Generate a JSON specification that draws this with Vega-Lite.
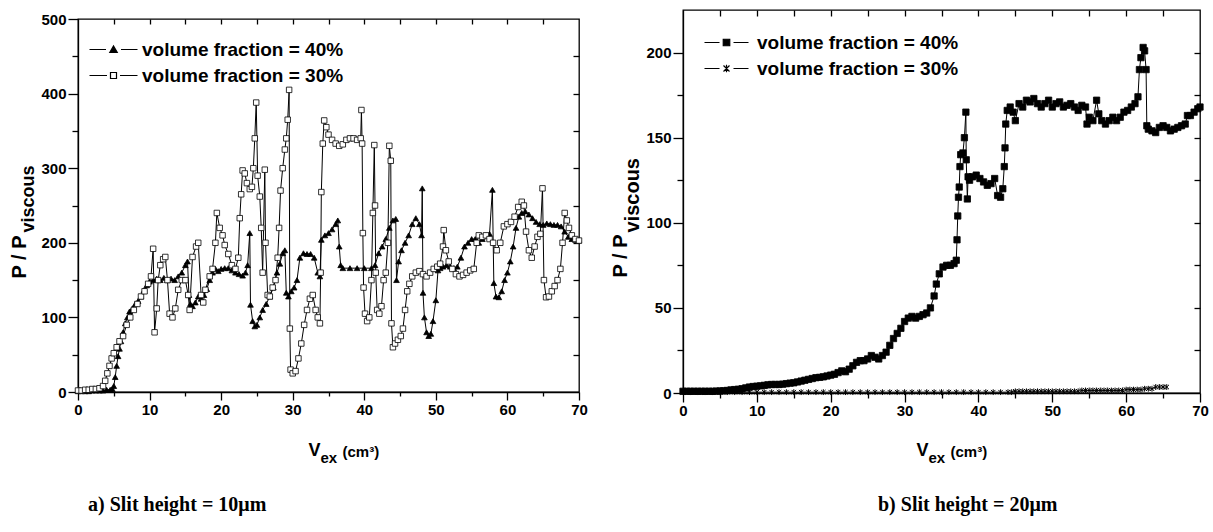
{
"$schema": "https://vega.github.io/schema/vega-lite/v6.json",
"background": "white",
"padding": {"left": 8, "top": 8, "right": 0, "bottom": 0},
"config": {
  "view": {"stroke": "black", "strokeWidth": 1.3},
  "axis": {"grid": false, "labelFont": "Liberation Sans", "labelFontWeight": "bold", "labelFontSize": 15, "labelColor": "black", "labelFlush": false, "tickColor": "black", "tickWidth": 1.3, "domainColor": "black", "domainWidth": 1.3, "titleFont": "Liberation Sans", "titleFontWeight": "bold", "titleColor": "black", "titleAlign": "left", "titleBaseline": "alphabetic"}
},
"datasets": {
"L": [
{"s":"40%","v":0,"p":1},{"s":"40%","v":0.5,"p":1},{"s":"40%","v":1,"p":1},{"s":"40%","v":1.5,"p":1},{"s":"40%","v":2,"p":2},{"s":"40%","v":2.5,"p":2},{"s":"40%","v":3,"p":2},{"s":"40%","v":3.5,"p":2},{"s":"40%","v":4,"p":3},{"s":"40%","v":4.5,"p":3},{"s":"40%","v":4.8,"p":4},{"s":"40%","v":5,"p":8},{"s":"40%","v":5.2,"p":20},{"s":"40%","v":5.4,"p":35},{"s":"40%","v":5.6,"p":48},{"s":"40%","v":5.8,"p":58},{"s":"40%","v":6,"p":68},{"s":"40%","v":6.3,"p":80},{"s":"40%","v":6.6,"p":92},{"s":"40%","v":6.9,"p":100},{"s":"40%","v":7.2,"p":108},{"s":"40%","v":7.6,"p":112},{"s":"40%","v":8,"p":118},{"s":"40%","v":8.4,"p":122},{"s":"40%","v":8.8,"p":128},{"s":"40%","v":9.2,"p":136},{"s":"40%","v":9.6,"p":143},{"s":"40%","v":10,"p":148},{"s":"40%","v":10.5,"p":150},{"s":"40%","v":11,"p":152},{"s":"40%","v":11.5,"p":150},{"s":"40%","v":12,"p":153},{"s":"40%","v":12.5,"p":150},{"s":"40%","v":13,"p":152},{"s":"40%","v":13.5,"p":150},{"s":"40%","v":14,"p":155},{"s":"40%","v":14.5,"p":160},{"s":"40%","v":15,"p":170},{"s":"40%","v":15.3,"p":175},{"s":"40%","v":15.5,"p":130},{"s":"40%","v":15.7,"p":118},{"s":"40%","v":16,"p":115},{"s":"40%","v":16.4,"p":120},{"s":"40%","v":16.8,"p":128},{"s":"40%","v":17.2,"p":125},{"s":"40%","v":17.6,"p":130},{"s":"40%","v":18,"p":138},{"s":"40%","v":18.4,"p":150},{"s":"40%","v":18.8,"p":160},{"s":"40%","v":19.2,"p":165},{"s":"40%","v":19.6,"p":162},{"s":"40%","v":20,"p":165},{"s":"40%","v":20.5,"p":166},{"s":"40%","v":21,"p":166},{"s":"40%","v":21.5,"p":163},{"s":"40%","v":22,"p":160},{"s":"40%","v":22.5,"p":158},{"s":"40%","v":23,"p":156},{"s":"40%","v":23.4,"p":160},{"s":"40%","v":23.7,"p":170},{"s":"40%","v":24,"p":213},{"s":"40%","v":24.1,"p":117},{"s":"40%","v":24.4,"p":95},{"s":"40%","v":24.7,"p":88},{"s":"40%","v":25,"p":90},{"s":"40%","v":25.4,"p":100},{"s":"40%","v":25.8,"p":110},{"s":"40%","v":26.3,"p":118},{"s":"40%","v":26.8,"p":128},{"s":"40%","v":27.3,"p":140},{"s":"40%","v":27.8,"p":160},{"s":"40%","v":28.2,"p":172},{"s":"40%","v":28.6,"p":186},{"s":"40%","v":28.9,"p":190},{"s":"40%","v":29.1,"p":133},{"s":"40%","v":29.4,"p":128},{"s":"40%","v":29.8,"p":135},{"s":"40%","v":30.2,"p":140},{"s":"40%","v":30.6,"p":150},{"s":"40%","v":31,"p":180},{"s":"40%","v":31.5,"p":186},{"s":"40%","v":32,"p":185},{"s":"40%","v":32.5,"p":185},{"s":"40%","v":33,"p":180},{"s":"40%","v":33.5,"p":160},{"s":"40%","v":33.8,"p":155},{"s":"40%","v":34,"p":204},{"s":"40%","v":34.5,"p":210},{"s":"40%","v":35,"p":213},{"s":"40%","v":35.5,"p":218},{"s":"40%","v":36,"p":225},{"s":"40%","v":36.3,"p":230},{"s":"40%","v":36.5,"p":195},{"s":"40%","v":36.7,"p":170},{"s":"40%","v":37,"p":166},{"s":"40%","v":38,"p":166},{"s":"40%","v":39,"p":166},{"s":"40%","v":40,"p":166},{"s":"40%","v":41,"p":166},{"s":"40%","v":41.5,"p":170},{"s":"40%","v":42,"p":186},{"s":"40%","v":42.5,"p":195},{"s":"40%","v":43,"p":205},{"s":"40%","v":43.5,"p":220},{"s":"40%","v":44,"p":230},{"s":"40%","v":44.4,"p":232},{"s":"40%","v":44.5,"p":150},{"s":"40%","v":44.8,"p":175},{"s":"40%","v":45.2,"p":190},{"s":"40%","v":45.7,"p":200},{"s":"40%","v":46.2,"p":210},{"s":"40%","v":46.7,"p":225},{"s":"40%","v":47.2,"p":233},{"s":"40%","v":47.7,"p":225},{"s":"40%","v":48,"p":210},{"s":"40%","v":48.1,"p":273},{"s":"40%","v":48.2,"p":133},{"s":"40%","v":48.4,"p":100},{"s":"40%","v":48.7,"p":80},{"s":"40%","v":49,"p":75},{"s":"40%","v":49.3,"p":78},{"s":"40%","v":49.6,"p":95},{"s":"40%","v":50,"p":123},{"s":"40%","v":50.3,"p":163},{"s":"40%","v":50.6,"p":166},{"s":"40%","v":51,"p":168},{"s":"40%","v":51.5,"p":170},{"s":"40%","v":52,"p":168},{"s":"40%","v":52.5,"p":166},{"s":"40%","v":53,"p":168},{"s":"40%","v":53.5,"p":180},{"s":"40%","v":54,"p":195},{"s":"40%","v":54.5,"p":200},{"s":"40%","v":55,"p":205},{"s":"40%","v":55.5,"p":205},{"s":"40%","v":56,"p":200},{"s":"40%","v":56.5,"p":205},{"s":"40%","v":57,"p":210},{"s":"40%","v":57.5,"p":212},{"s":"40%","v":57.9,"p":271},{"s":"40%","v":58.1,"p":146},{"s":"40%","v":58.4,"p":128},{"s":"40%","v":58.8,"p":127},{"s":"40%","v":59.2,"p":135},{"s":"40%","v":59.6,"p":150},{"s":"40%","v":60,"p":160},{"s":"40%","v":60.4,"p":175},{"s":"40%","v":60.8,"p":195},{"s":"40%","v":61.2,"p":220},{"s":"40%","v":61.6,"p":235},{"s":"40%","v":62,"p":240},{"s":"40%","v":62.5,"p":242},{"s":"40%","v":63,"p":238},{"s":"40%","v":63.5,"p":233},{"s":"40%","v":64,"p":228},{"s":"40%","v":64.5,"p":225},{"s":"40%","v":65,"p":224},{"s":"40%","v":65.5,"p":226},{"s":"40%","v":66,"p":225},{"s":"40%","v":66.5,"p":224},{"s":"40%","v":67,"p":224},{"s":"40%","v":67.5,"p":222},{"s":"40%","v":68,"p":215},{"s":"40%","v":68.5,"p":208},{"s":"40%","v":69,"p":205},{"s":"40%","v":69.5,"p":204},{"s":"40%","v":70,"p":203},
{"s":"30%","v":0,"p":2},{"s":"30%","v":0.5,"p":2},{"s":"30%","v":1,"p":3},{"s":"30%","v":1.5,"p":3},{"s":"30%","v":2,"p":4},{"s":"30%","v":2.5,"p":4},{"s":"30%","v":3,"p":5},{"s":"30%","v":3.5,"p":8},{"s":"30%","v":3.8,"p":15},{"s":"30%","v":4.1,"p":25},{"s":"30%","v":4.4,"p":35},{"s":"30%","v":4.7,"p":45},{"s":"30%","v":5,"p":52},{"s":"30%","v":5.4,"p":60},{"s":"30%","v":5.8,"p":68},{"s":"30%","v":6.3,"p":75},{"s":"30%","v":6.8,"p":90},{"s":"30%","v":7.3,"p":100},{"s":"30%","v":7.8,"p":110},{"s":"30%","v":8.3,"p":118},{"s":"30%","v":8.8,"p":128},{"s":"30%","v":9.3,"p":135},{"s":"30%","v":9.8,"p":145},{"s":"30%","v":10.2,"p":155},{"s":"30%","v":10.5,"p":192},{"s":"30%","v":10.7,"p":80},{"s":"30%","v":11,"p":112},{"s":"30%","v":11.2,"p":150},{"s":"30%","v":11.5,"p":170},{"s":"30%","v":11.9,"p":178},{"s":"30%","v":12.2,"p":181},{"s":"30%","v":12.5,"p":150},{"s":"30%","v":12.8,"p":105},{"s":"30%","v":13.2,"p":100},{"s":"30%","v":13.6,"p":112},{"s":"30%","v":14,"p":137},{"s":"30%","v":14.5,"p":150},{"s":"30%","v":15,"p":150},{"s":"30%","v":15.4,"p":130},{"s":"30%","v":15.6,"p":110},{"s":"30%","v":16,"p":181},{"s":"30%","v":16.5,"p":195},{"s":"30%","v":16.8,"p":200},{"s":"30%","v":17.2,"p":130},{"s":"30%","v":17.5,"p":120},{"s":"30%","v":17.8,"p":137},{"s":"30%","v":18.4,"p":155},{"s":"30%","v":18.8,"p":165},{"s":"30%","v":19.2,"p":200},{"s":"30%","v":19.4,"p":240},{"s":"30%","v":19.8,"p":220},{"s":"30%","v":20.2,"p":210},{"s":"30%","v":20.5,"p":197},{"s":"30%","v":21,"p":185},{"s":"30%","v":21.5,"p":170},{"s":"30%","v":22,"p":165},{"s":"30%","v":22.4,"p":180},{"s":"30%","v":22.6,"p":233},{"s":"30%","v":22.8,"p":265},{"s":"30%","v":23,"p":297},{"s":"30%","v":23.3,"p":293},{"s":"30%","v":23.6,"p":280},{"s":"30%","v":24,"p":272},{"s":"30%","v":24.3,"p":275},{"s":"30%","v":24.5,"p":300},{"s":"30%","v":24.7,"p":340},{"s":"30%","v":24.9,"p":388},{"s":"30%","v":25.1,"p":290},{"s":"30%","v":25.4,"p":262},{"s":"30%","v":25.6,"p":220},{"s":"30%","v":25.8,"p":160},{"s":"30%","v":26.1,"p":298},{"s":"30%","v":26.2,"p":200},{"s":"30%","v":26.5,"p":130},{"s":"30%","v":26.8,"p":128},{"s":"30%","v":27.2,"p":140},{"s":"30%","v":27.6,"p":150},{"s":"30%","v":27.9,"p":180},{"s":"30%","v":28.1,"p":220},{"s":"30%","v":28.3,"p":270},{"s":"30%","v":28.6,"p":300},{"s":"30%","v":28.9,"p":325},{"s":"30%","v":29.1,"p":340},{"s":"30%","v":29.3,"p":365},{"s":"30%","v":29.5,"p":405},{"s":"30%","v":29.6,"p":85},{"s":"30%","v":29.7,"p":30},{"s":"30%","v":30,"p":25},{"s":"30%","v":30.4,"p":28},{"s":"30%","v":30.8,"p":45},{"s":"30%","v":31.2,"p":65},{"s":"30%","v":31.6,"p":90},{"s":"30%","v":32,"p":110},{"s":"30%","v":32.4,"p":125},{"s":"30%","v":32.8,"p":130},{"s":"30%","v":33.2,"p":110},{"s":"30%","v":33.5,"p":100},{"s":"30%","v":33.8,"p":92},{"s":"30%","v":33.9,"p":160},{"s":"30%","v":34,"p":268},{"s":"30%","v":34.2,"p":333},{"s":"30%","v":34.4,"p":364},{"s":"30%","v":34.7,"p":355},{"s":"30%","v":35,"p":345},{"s":"30%","v":35.5,"p":338},{"s":"30%","v":36,"p":333},{"s":"30%","v":36.5,"p":330},{"s":"30%","v":37,"p":332},{"s":"30%","v":37.5,"p":338},{"s":"30%","v":38,"p":340},{"s":"30%","v":38.5,"p":340},{"s":"30%","v":39,"p":338},{"s":"30%","v":39.5,"p":340},{"s":"30%","v":39.6,"p":378},{"s":"30%","v":39.7,"p":333},{"s":"30%","v":39.8,"p":213},{"s":"30%","v":39.9,"p":140},{"s":"30%","v":40.1,"p":105},{"s":"30%","v":40.4,"p":95},{"s":"30%","v":40.7,"p":100},{"s":"30%","v":41,"p":150},{"s":"30%","v":41.2,"p":240},{"s":"30%","v":41.4,"p":331},{"s":"30%","v":41.5,"p":250},{"s":"30%","v":41.6,"p":160},{"s":"30%","v":41.8,"p":110},{"s":"30%","v":42.1,"p":105},{"s":"30%","v":42.4,"p":115},{"s":"30%","v":42.7,"p":150},{"s":"30%","v":43,"p":160},{"s":"30%","v":43.3,"p":200},{"s":"30%","v":43.5,"p":330},{"s":"30%","v":43.7,"p":310},{"s":"30%","v":43.8,"p":92},{"s":"30%","v":44,"p":60},{"s":"30%","v":44.3,"p":65},{"s":"30%","v":44.7,"p":70},{"s":"30%","v":45.1,"p":75},{"s":"30%","v":45.4,"p":85},{"s":"30%","v":45.7,"p":110},{"s":"30%","v":46,"p":135},{"s":"30%","v":46.3,"p":145},{"s":"30%","v":46.7,"p":155},{"s":"30%","v":47.2,"p":160},{"s":"30%","v":47.7,"p":162},{"s":"30%","v":48.2,"p":158},{"s":"30%","v":48.7,"p":155},{"s":"30%","v":49.2,"p":160},{"s":"30%","v":49.7,"p":165},{"s":"30%","v":50.2,"p":168},{"s":"30%","v":50.6,"p":172},{"s":"30%","v":51,"p":195},{"s":"30%","v":51.1,"p":217},{"s":"30%","v":51.4,"p":190},{"s":"30%","v":51.8,"p":175},{"s":"30%","v":52.3,"p":165},{"s":"30%","v":52.8,"p":158},{"s":"30%","v":53.3,"p":155},{"s":"30%","v":53.8,"p":157},{"s":"30%","v":54.3,"p":160},{"s":"30%","v":54.8,"p":163},{"s":"30%","v":55.3,"p":165},{"s":"30%","v":55.7,"p":200},{"s":"30%","v":56,"p":210},{"s":"30%","v":56.5,"p":208},{"s":"30%","v":57,"p":210},{"s":"30%","v":57.5,"p":205},{"s":"30%","v":58,"p":200},{"s":"30%","v":58.5,"p":190},{"s":"30%","v":59,"p":200},{"s":"30%","v":59.5,"p":222},{"s":"30%","v":60,"p":225},{"s":"30%","v":60.5,"p":228},{"s":"30%","v":61,"p":235},{"s":"30%","v":61.5,"p":248},{"s":"30%","v":62,"p":255},{"s":"30%","v":62.3,"p":250},{"s":"30%","v":62.6,"p":215},{"s":"30%","v":63,"p":190},{"s":"30%","v":63.4,"p":180},{"s":"30%","v":63.8,"p":195},{"s":"30%","v":64.2,"p":208},{"s":"30%","v":64.6,"p":212},{"s":"30%","v":64.9,"p":273},{"s":"30%","v":65.1,"p":150},{"s":"30%","v":65.4,"p":127},{"s":"30%","v":65.8,"p":128},{"s":"30%","v":66.2,"p":135},{"s":"30%","v":66.6,"p":142},{"s":"30%","v":67,"p":150},{"s":"30%","v":67.4,"p":165},{"s":"30%","v":67.7,"p":200},{"s":"30%","v":68,"p":240},{"s":"30%","v":68.3,"p":230},{"s":"30%","v":68.6,"p":220},{"s":"30%","v":69,"p":210},{"s":"30%","v":69.5,"p":205},{"s":"30%","v":70,"p":203}
],
"R": [
{"s":"40%","v":0,"p":1},{"s":"40%","v":0.5,"p":1},{"s":"40%","v":1,"p":1},{"s":"40%","v":1.5,"p":1},{"s":"40%","v":2,"p":1},{"s":"40%","v":2.5,"p":1},{"s":"40%","v":3,"p":1},{"s":"40%","v":3.5,"p":1},{"s":"40%","v":4,"p":1},{"s":"40%","v":4.5,"p":1.1},{"s":"40%","v":5,"p":1.2},{"s":"40%","v":5.5,"p":1.3},{"s":"40%","v":6,"p":1.5},{"s":"40%","v":6.5,"p":1.8},{"s":"40%","v":7,"p":2},{"s":"40%","v":7.5,"p":2.2},{"s":"40%","v":8,"p":2.5},{"s":"40%","v":8.5,"p":3},{"s":"40%","v":9,"p":3.5},{"s":"40%","v":9.5,"p":3.8},{"s":"40%","v":10,"p":4},{"s":"40%","v":10.5,"p":4.2},{"s":"40%","v":11,"p":4.5},{"s":"40%","v":11.5,"p":4.8},{"s":"40%","v":12,"p":5},{"s":"40%","v":12.5,"p":5},{"s":"40%","v":13,"p":5},{"s":"40%","v":13.5,"p":5.2},{"s":"40%","v":14,"p":5.5},{"s":"40%","v":14.5,"p":5.8},{"s":"40%","v":15,"p":6},{"s":"40%","v":15.5,"p":6.5},{"s":"40%","v":16,"p":7},{"s":"40%","v":16.5,"p":7.5},{"s":"40%","v":17,"p":8},{"s":"40%","v":17.5,"p":8.5},{"s":"40%","v":18,"p":9},{"s":"40%","v":18.5,"p":9.2},{"s":"40%","v":19,"p":9.5},{"s":"40%","v":19.5,"p":10},{"s":"40%","v":20,"p":10.5},{"s":"40%","v":20.5,"p":11},{"s":"40%","v":21,"p":12},{"s":"40%","v":21.5,"p":13},{"s":"40%","v":22,"p":12.5},{"s":"40%","v":22.5,"p":14},{"s":"40%","v":23,"p":16},{"s":"40%","v":23.5,"p":18},{"s":"40%","v":24,"p":19},{"s":"40%","v":24.5,"p":19},{"s":"40%","v":25,"p":20},{"s":"40%","v":25.5,"p":22},{"s":"40%","v":26,"p":21},{"s":"40%","v":26.5,"p":20},{"s":"40%","v":27,"p":22},{"s":"40%","v":27.5,"p":24},{"s":"40%","v":28,"p":28},{"s":"40%","v":28.5,"p":32},{"s":"40%","v":29,"p":35},{"s":"40%","v":29.5,"p":38},{"s":"40%","v":30,"p":42},{"s":"40%","v":30.5,"p":44},{"s":"40%","v":31,"p":45},{"s":"40%","v":31.5,"p":44},{"s":"40%","v":32,"p":45},{"s":"40%","v":32.5,"p":46},{"s":"40%","v":33,"p":47},{"s":"40%","v":33.5,"p":50},{"s":"40%","v":34,"p":57},{"s":"40%","v":34.3,"p":64},{"s":"40%","v":34.7,"p":70},{"s":"40%","v":35.2,"p":74},{"s":"40%","v":35.7,"p":75},{"s":"40%","v":36.2,"p":75},{"s":"40%","v":36.7,"p":76},{"s":"40%","v":37,"p":78},{"s":"40%","v":37.1,"p":90},{"s":"40%","v":37.2,"p":104},{"s":"40%","v":37.3,"p":115},{"s":"40%","v":37.4,"p":121},{"s":"40%","v":37.5,"p":133},{"s":"40%","v":37.6,"p":140},{"s":"40%","v":37.9,"p":141},{"s":"40%","v":38.1,"p":150},{"s":"40%","v":38.3,"p":165},{"s":"40%","v":38.35,"p":137},{"s":"40%","v":38.5,"p":114},{"s":"40%","v":38.6,"p":127},{"s":"40%","v":38.8,"p":125},{"s":"40%","v":39.2,"p":127},{"s":"40%","v":39.7,"p":128},{"s":"40%","v":40.2,"p":126},{"s":"40%","v":40.7,"p":124},{"s":"40%","v":41.2,"p":122},{"s":"40%","v":41.7,"p":123},{"s":"40%","v":42.2,"p":126},{"s":"40%","v":42.6,"p":116},{"s":"40%","v":43,"p":115},{"s":"40%","v":43.3,"p":120},{"s":"40%","v":43.5,"p":133},{"s":"40%","v":43.6,"p":144},{"s":"40%","v":43.7,"p":158},{"s":"40%","v":43.9,"p":166},{"s":"40%","v":44.3,"p":168},{"s":"40%","v":44.7,"p":165},{"s":"40%","v":45,"p":160},{"s":"40%","v":45.5,"p":170},{"s":"40%","v":46,"p":168},{"s":"40%","v":46.5,"p":172},{"s":"40%","v":47,"p":171},{"s":"40%","v":47.5,"p":173},{"s":"40%","v":48,"p":170},{"s":"40%","v":48.5,"p":168},{"s":"40%","v":49,"p":170},{"s":"40%","v":49.5,"p":172},{"s":"40%","v":50,"p":168},{"s":"40%","v":50.5,"p":170},{"s":"40%","v":51,"p":171},{"s":"40%","v":51.5,"p":168},{"s":"40%","v":52,"p":169},{"s":"40%","v":52.5,"p":170},{"s":"40%","v":53,"p":168},{"s":"40%","v":53.5,"p":166},{"s":"40%","v":54,"p":169},{"s":"40%","v":54.5,"p":168},{"s":"40%","v":54.7,"p":158},{"s":"40%","v":55,"p":162},{"s":"40%","v":55.5,"p":160},{"s":"40%","v":56,"p":172},{"s":"40%","v":56.3,"p":164},{"s":"40%","v":56.7,"p":160},{"s":"40%","v":57.2,"p":158},{"s":"40%","v":57.7,"p":160},{"s":"40%","v":58.2,"p":162},{"s":"40%","v":58.7,"p":160},{"s":"40%","v":59.2,"p":162},{"s":"40%","v":59.7,"p":165},{"s":"40%","v":60.2,"p":166},{"s":"40%","v":60.7,"p":168},{"s":"40%","v":61.2,"p":170},{"s":"40%","v":61.6,"p":174},{"s":"40%","v":61.8,"p":190},{"s":"40%","v":62,"p":197},{"s":"40%","v":62.3,"p":203},{"s":"40%","v":62.5,"p":201},{"s":"40%","v":62.7,"p":190},{"s":"40%","v":62.8,"p":157},{"s":"40%","v":63,"p":155},{"s":"40%","v":63.5,"p":154},{"s":"40%","v":64,"p":153},{"s":"40%","v":64.5,"p":156},{"s":"40%","v":65,"p":157},{"s":"40%","v":65.5,"p":156},{"s":"40%","v":66,"p":154},{"s":"40%","v":66.5,"p":155},{"s":"40%","v":67,"p":156},{"s":"40%","v":67.5,"p":157},{"s":"40%","v":68,"p":158},{"s":"40%","v":68.3,"p":163},{"s":"40%","v":68.7,"p":163},{"s":"40%","v":69.2,"p":165},{"s":"40%","v":69.7,"p":167},{"s":"40%","v":70,"p":168},
{"s":"30%","v":0,"p":0.5},{"s":"30%","v":1,"p":0.5},{"s":"30%","v":2,"p":0.5},{"s":"30%","v":3,"p":0.5},{"s":"30%","v":4,"p":0.5},{"s":"30%","v":5,"p":0.5},{"s":"30%","v":6,"p":0.5},{"s":"30%","v":7,"p":0.5},{"s":"30%","v":8,"p":0.5},{"s":"30%","v":9,"p":0.5},{"s":"30%","v":10,"p":0.5},{"s":"30%","v":11,"p":0.5},{"s":"30%","v":12,"p":0.5},{"s":"30%","v":13,"p":0.5},{"s":"30%","v":14,"p":0.5},{"s":"30%","v":15,"p":0.5},{"s":"30%","v":16,"p":0.5},{"s":"30%","v":17,"p":0.5},{"s":"30%","v":18,"p":0.5},{"s":"30%","v":19,"p":0.5},{"s":"30%","v":20,"p":0.5},{"s":"30%","v":21,"p":0.5},{"s":"30%","v":22,"p":0.5},{"s":"30%","v":23,"p":0.5},{"s":"30%","v":24,"p":0.5},{"s":"30%","v":25,"p":0.5},{"s":"30%","v":26,"p":0.5},{"s":"30%","v":27,"p":0.5},{"s":"30%","v":28,"p":0.5},{"s":"30%","v":29,"p":0.5},{"s":"30%","v":30,"p":0.5},{"s":"30%","v":31,"p":0.5},{"s":"30%","v":32,"p":0.5},{"s":"30%","v":33,"p":0.5},{"s":"30%","v":34,"p":0.5},{"s":"30%","v":35,"p":0.5},{"s":"30%","v":36,"p":0.5},{"s":"30%","v":37,"p":0.5},{"s":"30%","v":38,"p":0.5},{"s":"30%","v":39,"p":0.5},{"s":"30%","v":40,"p":0.5},{"s":"30%","v":41,"p":0.5},{"s":"30%","v":42,"p":0.5},{"s":"30%","v":43,"p":0.5},{"s":"30%","v":44,"p":0.5},{"s":"30%","v":44.5,"p":0.5},{"s":"30%","v":45,"p":1},{"s":"30%","v":45.5,"p":1},{"s":"30%","v":46,"p":1},{"s":"30%","v":46.5,"p":1},{"s":"30%","v":47,"p":1},{"s":"30%","v":47.5,"p":1},{"s":"30%","v":48,"p":1},{"s":"30%","v":48.5,"p":1},{"s":"30%","v":49,"p":1},{"s":"30%","v":49.5,"p":1},{"s":"30%","v":50,"p":1},{"s":"30%","v":50.5,"p":1},{"s":"30%","v":51,"p":1},{"s":"30%","v":51.5,"p":1},{"s":"30%","v":52,"p":1},{"s":"30%","v":52.5,"p":1},{"s":"30%","v":53,"p":1},{"s":"30%","v":53.5,"p":1},{"s":"30%","v":54,"p":1.5},{"s":"30%","v":54.5,"p":1.5},{"s":"30%","v":55,"p":1.5},{"s":"30%","v":55.5,"p":1.5},{"s":"30%","v":56,"p":1.5},{"s":"30%","v":56.5,"p":1.5},{"s":"30%","v":57,"p":1.5},{"s":"30%","v":57.5,"p":1.5},{"s":"30%","v":58,"p":1.5},{"s":"30%","v":58.5,"p":1.5},{"s":"30%","v":59,"p":1.5},{"s":"30%","v":59.5,"p":1.5},{"s":"30%","v":60,"p":2},{"s":"30%","v":60.5,"p":2},{"s":"30%","v":61,"p":2},{"s":"30%","v":61.5,"p":2},{"s":"30%","v":62,"p":2},{"s":"30%","v":62.5,"p":2.5},{"s":"30%","v":63,"p":2.5},{"s":"30%","v":63.5,"p":2.5},{"s":"30%","v":64,"p":3.5},{"s":"30%","v":64.5,"p":3.5},{"s":"30%","v":65,"p":3.5},{"s":"30%","v":65.5,"p":3.5}
]
},
"spacing": 21,
"resolve": {"scale": {"shape": "independent", "fill": "independent", "stroke": "independent"}, "legend": {"shape": "independent", "fill": "independent", "stroke": "independent"}},
"hconcat": [
{
 "spacing": 0,
 "vconcat": [
  {"width": 10, "height": 1, "data": {"values": []}, "mark": "point", "view": {"stroke": null}},
  {
   "width": 501, "height": 373,
   "data": {"name": "L"},
   "title": {"text": "a) Slit height = 10μm", "orient": "bottom", "anchor": "start", "frame": "group", "font": "Liberation Serif", "fontSize": 20, "fontWeight": "bold", "color": "black", "dx": 10, "offset": 30},
   "layer": [
    {"transform": [{"filter": "datum.s === '40%'"}],
     "mark": {"type": "line", "color": "black", "strokeWidth": 1},
     "encoding": {
      "x": {"field": "v", "type": "quantitative", "scale": {"domain": [0, 70], "nice": false, "zero": false},
            "axis": {"orient": "bottom", "values": [0,10,20,30,40,50,60,70], "tickSize": 8, "labelPadding": 2, "title": "V", "titleX": 230, "titleY": 63, "titleFontSize": 18}},
      "y": {"field": "p", "type": "quantitative", "scale": {"domain": [0, 500], "nice": false},
            "axis": {"orient": "left", "values": [0,100,200,300,400,500], "tickSize": 10, "labelPadding": 2, "title": "P / P", "titleAngle": 270, "titleX": -53, "titleY": 259, "titleFontSize": 20}}
     }},
    {"transform": [{"filter": "datum.s === '30%'"}],
     "mark": {"type": "line", "color": "black", "strokeWidth": 1},
     "encoding": {
      "x": {"field": "v", "type": "quantitative", "scale": {"domain": [0, 70], "nice": false, "zero": false},
            "axis": {"orient": "bottom", "values": [5,15,25,35,45,55,65], "tickSize": 4, "labels": false, "domain": false, "title": "ex", "titleX": 242, "titleY": 70, "titleFontSize": 15}},
      "y": {"field": "p", "type": "quantitative", "scale": {"domain": [0, 500], "nice": false},
            "axis": {"orient": "left", "values": [50,150,250,350,450], "tickSize": 6, "labels": false, "domain": false, "title": "viscous", "titleAngle": 270, "titleX": -45, "titleY": 213, "titleFontSize": 18}}
     }},
    {"transform": [{"filter": "datum.s === '40%'"}],
     "mark": {"type": "point", "shape": "triangle-up", "filled": true, "fill": "black", "size": 32, "stroke": "black", "strokeWidth": 0.8, "opacity": 1},
     "encoding": {
      "x": {"field": "v", "type": "quantitative", "scale": {"domain": [0, 70], "nice": false, "zero": false},
            "axis": {"orient": "top", "values": [5,10,15,20,25,30,35,40,45,50,55,60,65], "tickSize": -5, "labels": false, "domain": false, "title": null}},
      "y": {"field": "p", "type": "quantitative", "scale": {"domain": [0, 500], "nice": false},
            "axis": {"orient": "right", "values": [50,100,150,200,250,300,350,400,450], "tickSize": -6, "labels": false, "domain": false, "title": null}}
     }},
    {"transform": [{"filter": "datum.s === '30%'"}],
     "mark": {"type": "point", "shape": "square", "filled": true, "fill": "white", "size": 30, "stroke": "black", "strokeWidth": 0.8, "opacity": 1},
     "encoding": {
      "x": {"field": "v", "type": "quantitative", "scale": {"domain": [0, 70], "nice": false, "zero": false},
            "axis": {"orient": "bottom", "ticks": false, "labels": false, "domain": false, "title": "(cm³)", "titleX": 264, "titleY": 64, "titleFontSize": 15}},
      "y": {"field": "p", "type": "quantitative", "scale": {"domain": [0, 500], "nice": false}, "axis": null}
     }},
    {"transform": [{"filter": "false"}],
     "mark": {"type": "point", "filled": false, "strokeWidth": 1.2, "opacity": 1},
     "encoding": {
      "shape": {"field": "s", "type": "nominal", "scale": {"domain": ["40%", "30%"], "range": ["M-4.8,0H-1.5M1.5,0H4.8M-0.75,0.6L0,-0.7L0.75,0.6Z", "M-4.8,0H-1.3M1.3,0H4.8M-0.6,-0.6H0.6V0.6H-0.6Z"]},
        "legend": {"orient": "none", "legendX": 26, "legendY": 30, "title": null, "labelExpr": "'volume fraction = ' + datum.label", "labelFont": "Liberation Sans", "labelFontSize": 19, "labelFontWeight": "bold", "labelColor": "black", "symbolSize": 100, "labelOffset": 19, "rowPadding": 6, "padding": 0, "labelLimit": 400, "symbolOpacity": 1, "symbolStrokeWidth": 1.2}},
      "fill": {"field": "s", "type": "nominal", "scale": {"domain": ["40%", "30%"], "range": ["black", "white"]}},
      "stroke": {"field": "s", "type": "nominal", "scale": {"domain": ["40%", "30%"], "range": ["black", "black"]}}
     }}
   ],
   "resolve": {"scale": {"x": "independent", "y": "independent"}}
  }
 ]
},
{
 "width": 517, "height": 383,
 "data": {"name": "R"},
 "title": {"text": "b) Slit height = 20μm", "orient": "bottom", "anchor": "start", "frame": "group", "font": "Liberation Serif", "fontSize": 20, "fontWeight": "bold", "color": "black", "dx": 195, "offset": 30},
 "layer": [
  {"transform": [{"filter": "datum.s === '40%'"}],
   "mark": {"type": "line", "color": "black", "strokeWidth": 1},
   "encoding": {
    "x": {"field": "v", "type": "quantitative", "scale": {"domain": [0, 70], "nice": false, "zero": false},
          "axis": {"orient": "bottom", "values": [0,10,20,30,40,50,60,70], "tickSize": 9, "labelPadding": 1, "title": "V", "titleX": 233, "titleY": 62, "titleFontSize": 18}},
    "y": {"field": "p", "type": "quantitative", "scale": {"domain": [0, 225], "nice": false},
          "axis": {"orient": "left", "values": [0,50,100,150,200], "tickSize": 10, "labelPadding": 2, "title": "P / P", "titleAngle": 270, "titleX": -57, "titleY": 267, "titleFontSize": 20}}
   }},
  {"transform": [{"filter": "datum.s === '30%'"}],
   "mark": {"type": "line", "color": "black", "strokeWidth": 1},
   "encoding": {
    "x": {"field": "v", "type": "quantitative", "scale": {"domain": [0, 70], "nice": false, "zero": false},
          "axis": {"orient": "bottom", "values": [5,15,25,35,45,55,65], "tickSize": 5, "labels": false, "domain": false, "title": "ex", "titleX": 245, "titleY": 69, "titleFontSize": 15}},
    "y": {"field": "p", "type": "quantitative", "scale": {"domain": [0, 225], "nice": false},
          "axis": {"orient": "left", "values": [25,75,125,175], "tickSize": 6, "labels": false, "domain": false, "title": "viscous", "titleAngle": 270, "titleX": -45, "titleY": 222, "titleFontSize": 20}}
   }},
  {"transform": [{"filter": "datum.s === '40%'"}],
   "mark": {"type": "point", "shape": "square", "filled": true, "fill": "black", "size": 40, "stroke": "black", "strokeWidth": 0.8, "opacity": 1},
   "encoding": {
    "x": {"field": "v", "type": "quantitative", "scale": {"domain": [0, 70], "nice": false, "zero": false},
          "axis": {"orient": "top", "values": [5,10,15,20,25,30,35,40,45,50,55,60,65], "tickSize": -6, "labels": false, "domain": false, "title": null}},
    "y": {"field": "p", "type": "quantitative", "scale": {"domain": [0, 225], "nice": false},
          "axis": {"orient": "right", "values": [25,50,75,100,125,150,175,200], "tickSize": -6, "labels": false, "domain": false, "title": null}}
   }},
  {"transform": [{"filter": "datum.s === '30%'"}],
   "mark": {"type": "point", "shape": "M-1,-1L1,1M-1,1L1,-1M0,-1.3V1.3", "filled": true, "fill": "transparent", "size": 20, "stroke": "black", "strokeWidth": 1, "opacity": 1},
   "encoding": {
    "x": {"field": "v", "type": "quantitative", "scale": {"domain": [0, 70], "nice": false, "zero": false},
          "axis": {"orient": "bottom", "ticks": false, "labels": false, "domain": false, "title": "(cm³)", "titleX": 267, "titleY": 63, "titleFontSize": 15}},
    "y": {"field": "p", "type": "quantitative", "scale": {"domain": [0, 225], "nice": false}, "axis": null}
   }},
  {"transform": [{"filter": "false"}],
   "mark": {"type": "point", "filled": false, "strokeWidth": 1.2, "opacity": 1},
   "encoding": {
    "shape": {"field": "s", "type": "nominal", "scale": {"domain": ["40%", "30%"], "range": ["M-4.4,0H-1.4M1.4,0H4.4M-0.65,-0.65H0.65V0.65H-0.65Z", "M-4.4,0H-1.4M1.4,0H4.4M-0.6,-0.6L0.6,0.6M-0.6,0.6L0.6,-0.6M0,-0.75V0.75"]},
      "legend": {"orient": "none", "legendX": 34, "legendY": 23, "title": null, "labelExpr": "'volume fraction = ' + datum.label", "labelFont": "Liberation Sans", "labelFontSize": 19, "labelFontWeight": "bold", "labelColor": "black", "symbolSize": 100, "labelOffset": 21, "rowPadding": 6, "padding": 0, "labelLimit": 400, "symbolOpacity": 1, "symbolStrokeWidth": 1.2}},
    "fill": {"field": "s", "type": "nominal", "scale": {"domain": ["40%", "30%"], "range": ["black", "white"]}},
    "stroke": {"field": "s", "type": "nominal", "scale": {"domain": ["40%", "30%"], "range": ["black", "black"]}}
   }}
 ],
 "resolve": {"scale": {"x": "independent", "y": "independent"}}
}
]
}
